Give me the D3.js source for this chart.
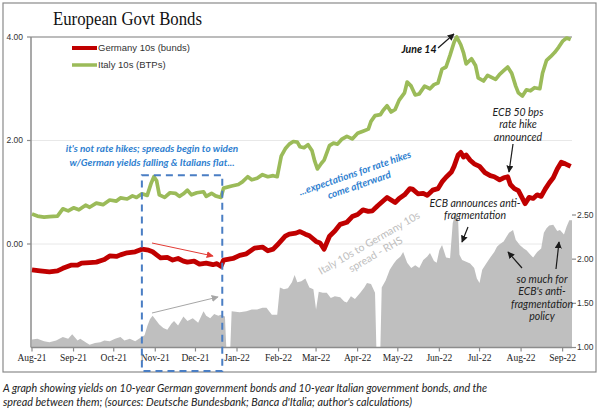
<!DOCTYPE html>
<html><head><meta charset="utf-8">
<script src="https://cdn.jsdelivr.net/npm/d3@7"></script>
<style>body{margin:0;background:#fff;} svg{display:block}</style>
</head><body><svg id="c" width="600" height="409"></svg>
<script>
// ---------- DATA ----------
const germany = [
["2021-08-01",-0.50],["2021-08-07",-0.52],["2021-08-14",-0.54],["2021-08-20",-0.52],["2021-08-24",-0.47],["2021-08-30",-0.41],
["2021-09-04",-0.41],["2021-09-07",-0.37],["2021-09-13",-0.36],["2021-09-18",-0.35],["2021-09-24",-0.30],["2021-09-28",-0.23],
["2021-10-03",-0.24],["2021-10-06",-0.21],["2021-10-11",-0.17],["2021-10-17",-0.15],["2021-10-22",-0.10],["2021-10-27",-0.12],["2021-10-30",-0.15],
["2021-11-02",-0.21],["2021-11-05",-0.27],["2021-11-10",-0.26],["2021-11-14",-0.31],["2021-11-18",-0.28],["2021-11-22",-0.33],["2021-11-25",-0.35],["2021-11-30",-0.33],
["2021-12-04",-0.39],["2021-12-09",-0.37],["2021-12-14",-0.40],["2021-12-17",-0.38],["2021-12-20",-0.43],["2021-12-22",-0.31],["2021-12-29",-0.28],
["2022-01-03",-0.22],["2022-01-08",-0.19],["2022-01-14",-0.08],["2022-01-20",-0.06],["2022-01-24",-0.13],["2022-01-28",-0.10],["2022-01-31",-0.02],
["2022-02-06",0.15],["2022-02-09",0.19],["2022-02-14",0.21],["2022-02-17",0.24],["2022-02-21",0.19],["2022-02-24",0.16],
["2022-03-01",0.05],["2022-03-04",0.02],["2022-03-07",-0.10],["2022-03-11",0.15],["2022-03-15",0.25],["2022-03-19",0.38],["2022-03-24",0.42],["2022-03-28",0.53],
["2022-04-01",0.57],["2022-04-05",0.66],["2022-04-09",0.63],["2022-04-12",0.64],["2022-04-16",0.74],["2022-04-20",0.83],["2022-04-23",0.90],["2022-04-26",0.85],["2022-04-29",0.80],
["2022-05-02",0.88],["2022-05-06",0.95],["2022-05-10",1.07],["2022-05-12",1.06],["2022-05-16",0.97],["2022-05-20",0.98],["2022-05-23",0.94],["2022-05-27",1.04],["2022-05-31",1.07],
["2022-06-03",1.20],["2022-06-06",1.29],["2022-06-10",1.39],["2022-06-12",1.50],["2022-06-15",1.72],["2022-06-17",1.77],["2022-06-19",1.68],["2022-06-21",1.72],["2022-06-24",1.62],["2022-06-27",1.55],
["2022-07-01",1.50],["2022-07-05",1.38],["2022-07-09",1.32],["2022-07-12",1.30],["2022-07-16",1.24],["2022-07-19",1.28],["2022-07-22",1.30],["2022-07-24",1.15],["2022-07-27",1.07],["2022-07-30",1.03],
["2022-08-02",0.88],["2022-08-04",0.78],["2022-08-07",0.90],["2022-08-10",0.88],["2022-08-13",0.95],["2022-08-16",0.92],["2022-08-19",1.06],["2022-08-22",1.18],["2022-08-25",1.28],["2022-08-28",1.45],["2022-08-31",1.58],
["2022-09-03",1.55],["2022-09-07",1.50]
];
const italy = [
["2021-08-01",0.58],["2021-08-05",0.54],["2021-08-10",0.52],["2021-08-14",0.53],["2021-08-20",0.54],["2021-08-24",0.68],["2021-08-28",0.64],
["2021-09-01",0.70],["2021-09-05",0.66],["2021-09-10",0.75],["2021-09-13",0.71],["2021-09-18",0.79],["2021-09-23",0.76],["2021-09-28",0.85],
["2021-10-03",0.83],["2021-10-06",0.89],["2021-10-11",0.87],["2021-10-15",0.93],["2021-10-18",0.90],["2021-10-22",0.97],["2021-10-26",0.94],["2021-10-29",1.18],["2021-10-31",1.30],
["2021-11-02",1.22],["2021-11-04",0.95],["2021-11-08",0.90],["2021-11-12",0.99],["2021-11-16",0.98],["2021-11-19",0.92],["2021-11-22",0.97],["2021-11-25",1.04],["2021-11-28",0.95],
["2021-12-02",0.99],["2021-12-07",1.01],["2021-12-09",0.92],["2021-12-13",0.98],["2021-12-16",0.93],["2021-12-20",0.90],["2021-12-22",1.08],["2021-12-28",1.12],
["2022-01-02",1.15],["2022-01-05",1.20],["2022-01-09",1.30],["2022-01-12",1.24],["2022-01-16",1.27],["2022-01-20",1.34],["2022-01-24",1.30],["2022-01-28",1.32],["2022-01-31",1.30],
["2022-02-03",1.70],["2022-02-06",1.84],["2022-02-09",1.93],["2022-02-12",1.98],["2022-02-15",1.97],["2022-02-17",1.88],["2022-02-20",1.86],["2022-02-23",1.92],["2022-02-26",1.80],["2022-02-28",1.60],
["2022-03-02",1.45],["2022-03-05",1.56],["2022-03-07",1.62],["2022-03-11",1.90],["2022-03-14",1.95],["2022-03-17",1.93],["2022-03-20",2.02],["2022-03-24",2.08],["2022-03-28",2.03],
["2022-04-01",2.14],["2022-04-05",2.18],["2022-04-09",2.22],["2022-04-11",2.37],["2022-04-14",2.48],["2022-04-18",2.50],["2022-04-20",2.58],["2022-04-23",2.67],["2022-04-26",2.55],["2022-04-29",2.60],
["2022-05-02",2.78],["2022-05-06",2.92],["2022-05-08",3.13],["2022-05-11",3.05],["2022-05-14",2.88],["2022-05-17",2.90],["2022-05-21",3.05],["2022-05-25",3.00],["2022-05-28",3.08],["2022-05-31",3.11],
["2022-06-03",3.38],["2022-06-06",3.42],["2022-06-09",3.65],["2022-06-12",3.90],["2022-06-14",4.00],["2022-06-17",3.85],["2022-06-19",3.70],["2022-06-21",3.48],["2022-06-25",3.58],["2022-06-28",3.45],["2022-06-30",3.21],
["2022-07-04",3.15],["2022-07-07",3.26],["2022-07-10",3.22],["2022-07-13",3.18],["2022-07-16",3.28],["2022-07-19",3.35],["2022-07-22",3.42],["2022-07-25",3.30],["2022-07-28",3.05],["2022-07-30",2.92],
["2022-08-02",2.86],["2022-08-05",2.98],["2022-08-08",2.96],["2022-08-11",3.02],["2022-08-15",3.00],["2022-08-17",3.30],["2022-08-20",3.55],["2022-08-23",3.62],["2022-08-26",3.70],["2022-08-29",3.80],
["2022-09-01",3.92],["2022-09-04",3.98],["2022-09-07",3.95]
];
// Italy 10s to Germany 10s spread (RHS); null = missing day
const spread = [
["2021-08-01",1.09],["2021-08-05",1.10],["2021-08-10",1.07],["2021-08-14",1.06],["2021-08-19",1.08],["2021-08-24",1.12],["2021-08-28",1.10],["2021-08-31",1.15],
["2021-09-04",1.08],["2021-09-06",1.10],["2021-09-10",1.06],["2021-09-13",1.03],["2021-09-17",1.05],["2021-09-21",1.06],["2021-09-24",1.08],["2021-09-28",1.07],
["2021-10-02",1.10],["2021-10-06",1.12],["2021-10-09",1.08],["2021-10-13",1.10],["2021-10-17",1.07],["2021-10-21",1.11],["2021-10-24",1.14],["2021-10-26",1.24],["2021-10-28",1.32],["2021-10-30",1.36],
["2021-11-02",1.30],["2021-11-04",1.26],["2021-11-07",1.22],["2021-11-10",1.20],["2021-11-13",1.27],["2021-11-15",1.30],["2021-11-18",1.25],["2021-11-22",1.35],["2021-11-25",1.30],["2021-11-29",1.33],
["2021-12-03",1.28],["2021-12-07",1.41],["2021-12-09",1.36],["2021-12-12",1.33],["2021-12-15",1.38],["2021-12-18",1.36],["2021-12-20",1.37],["2021-12-23",1.35],["2021-12-24",null],["2021-12-27",null],["2021-12-28",1.41],
["2022-01-03",1.40],["2022-01-08",1.41],["2022-01-12",1.43],["2022-01-16",1.43],["2022-01-20",1.45],["2022-01-23",1.45],["2022-01-27",1.37],["2022-01-31",1.37],
["2022-02-02",1.68],["2022-02-05",1.66],["2022-02-08",1.67],["2022-02-11",1.74],["2022-02-13",1.82],["2022-02-15",1.74],["2022-02-18",1.75],["2022-02-21",1.78],["2022-02-24",1.68],["2022-02-27",1.66],
["2022-03-01",1.43],["2022-03-03",1.63],["2022-03-06",1.62],["2022-03-09",1.62],["2022-03-12",1.56],["2022-03-15",1.58],["2022-03-19",1.57],["2022-03-22",1.52],["2022-03-24",1.51],["2022-03-27",1.58],["2022-03-30",1.55],
["2022-04-03",1.62],["2022-04-06",1.68],["2022-04-08",1.73],["2022-04-11",1.72],["2022-04-14",1.62],["2022-04-15",null],["2022-04-18",null],["2022-04-19",1.68],["2022-04-22",1.76],["2022-04-25",1.88],["2022-04-28",1.95],["2022-04-30",1.99],
["2022-05-03",2.03],["2022-05-05",2.08],["2022-05-08",1.96],["2022-05-11",1.90],["2022-05-14",1.93],["2022-05-17",1.90],["2022-05-20",1.99],["2022-05-23",2.03],["2022-05-25",2.07],["2022-05-28",1.98],["2022-05-30",1.96],
["2022-06-01",2.10],["2022-06-03",2.16],["2022-06-06",2.02],["2022-06-09",2.01],["2022-06-11",2.41],["2022-06-13",2.52],["2022-06-15",2.45],["2022-06-16",2.05],["2022-06-18",1.99],["2022-06-21",1.97],["2022-06-24",1.95],["2022-06-27",1.90],["2022-06-29",1.78],
["2022-07-01",1.73],["2022-07-03",1.88],["2022-07-06",1.95],["2022-07-09",2.02],["2022-07-12",2.08],["2022-07-14",2.14],["2022-07-16",2.17],["2022-07-19",2.20],["2022-07-21",2.25],["2022-07-23",2.30],["2022-07-26",2.33],["2022-07-28",2.22],["2022-07-31",2.16],
["2022-08-03",2.12],["2022-08-05",2.10],["2022-08-08",2.05],["2022-08-10",2.02],["2022-08-13",2.08],["2022-08-16",2.12],["2022-08-18",2.30],["2022-08-20",2.35],["2022-08-22",2.38],["2022-08-25",2.39],["2022-08-28",2.32],["2022-08-30",2.33],
["2022-09-02",2.28],["2022-09-04",2.37],["2022-09-06",2.44],["2022-09-08",2.44]
];
const leftTicks = [0, 2, 4];
const rightTicks = [1.0, 1.5, 2.0, 2.5];
const xDomain = ["2021-08-01", "2022-09-08"];
const legendLabels = ["Germany 10s (bunds)", "Italy 10s (BTPs)"];
const title = "European Govt Bonds";
const caption = ["A graph showing yields on 10-year German government bonds and 10-year Italian government bonds, and the",
                 "spread between them; (sources: Deutsche Bundesbank; Banca d'Italia; author's calculations)"];

// ---------- CHART ----------
const parse = d3.utcParse("%Y-%m-%d");
const svg = d3.select("#c");
const L = 31, R = 572, T = 37, B = 347.5;

const x = d3.scaleUtc().domain(xDomain.map(parse)).range([32, R]);
const yL = d3.scaleLinear().domain([-2, 4]).range([B, T]);
const yR = d3.scaleLinear().domain([1, 2.5]).range([B, 215]);

const ger = germany.map(d => ({d: parse(d[0]), v: d[1]}));
const ita = italy.map(d => ({d: parse(d[0]), v: d[1]}));
const spr = spread.map(d => ({d: parse(d[0]), v: d[1]}));

svg.append("rect").attr("width", 600).attr("height", 409).attr("fill", "#fff");
svg.append("rect").attr("x", 3).attr("y", 3).attr("width", 593).attr("height", 369)
  .attr("fill", "none").attr("stroke", "#8a8a8a").attr("stroke-width", 1.2);

svg.append("text").attr("x", 53).attr("y", 25).text(title)
  .attr("font-family", "Liberation Serif").attr("font-size", 18).attr("fill", "#111")
  .attr("textLength", 149).attr("lengthAdjust", "spacingAndGlyphs");

svg.append("g").selectAll("line").data(leftTicks).join("line")
  .attr("x1", L).attr("x2", R).attr("y1", d => yL(d)).attr("y2", d => yL(d))
  .attr("stroke", d => d === 4 ? "#a6a6a6" : "#e8e8e8").attr("stroke-width", d => d === 4 ? 1.3 : 1);

const area = d3.area()
  .x(d => x(d.d))
  .y0(yR(1))
  .y1(d => d.v == null ? yR(1) : yR(d.v));
svg.append("path").datum(spr).attr("d", area).attr("fill", "#bfbfbf");

svg.append("line").attr("x1", L).attr("x2", L).attr("y1", T).attr("y2", B)
  .attr("stroke", "#8c8c8c").attr("stroke-width", 1.5);
svg.append("line").attr("x1", L).attr("x2", R).attr("y1", B).attr("y2", B)
  .attr("stroke", "#8c8c8c").attr("stroke-width", 1.5);

const gL = svg.append("g");
gL.selectAll("line").data(leftTicks).join("line")
  .attr("x1", L - 4).attr("x2", L).attr("y1", d => yL(d)).attr("y2", d => yL(d))
  .attr("stroke", "#8c8c8c").attr("stroke-width", 1.2);
gL.selectAll("text").data(leftTicks).join("text")
  .attr("x", 23).attr("y", d => yL(d)).attr("dy", "0.35em").attr("text-anchor", "end")
  .attr("font-family", "Liberation Sans").attr("font-size", 8.5).attr("fill", "#333")
  .text(d => d3.format(".2f")(d));

const gR = svg.append("g");
gR.selectAll("line").data(rightTicks).join("line")
  .attr("x1", R).attr("x2", R + 4).attr("y1", d => yR(d)).attr("y2", d => yR(d))
  .attr("stroke", "#8c8c8c").attr("stroke-width", 1.2);
gR.selectAll("text").data(rightTicks).join("text")
  .attr("x", R + 5).attr("y", d => yR(d)).attr("dy", "0.35em")
  .attr("font-family", "Liberation Sans").attr("font-size", 8.5).attr("fill", "#333")
  .text(d => d3.format(".2f")(d));

const months = d3.utcMonth.range(parse("2021-08-01"), parse("2022-09-08"));
const gX = svg.append("g");
gX.selectAll("line").data(months).join("line")
  .attr("x1", d => x(d)).attr("x2", d => x(d)).attr("y1", B).attr("y2", B + 4)
  .attr("stroke", "#8c8c8c").attr("stroke-width", 1.2);
gX.selectAll("text").data(months).join("text")
  .attr("x", d => x(d)).attr("y", 361).attr("text-anchor", "middle")
  .attr("font-family", "Liberation Serif").attr("font-size", 9.5).attr("fill", "#222")
  .text(d3.utcFormat("%b-%y"));

const line = d3.line().x(d => x(d.d)).y(d => yL(d.v));
svg.append("path").datum(ita).attr("d", line).attr("fill", "none")
  .attr("stroke", "#9bbb59").attr("stroke-width", 3.7).attr("stroke-linejoin", "round");
svg.append("path").datum(ger).attr("d", line).attr("fill", "none")
  .attr("stroke", "#c00000").attr("stroke-width", 4.8).attr("stroke-linejoin", "round");

const colors = ["#c00000", "#9bbb59"];
legendLabels.forEach((lab, i) => {
  const yy = 48 + i * 17;
  svg.append("line").attr("x1", 72).attr("x2", 97).attr("y1", yy).attr("y2", yy)
    .attr("stroke", colors[i]).attr("stroke-width", i === 0 ? 4 : 3.5);
  svg.append("text").attr("x", 98).attr("y", yy).attr("dy", "0.35em").text(lab)
    .attr("font-family", "Liberation Sans").attr("font-size", 9.5).attr("fill", "#333");
});

svg.append("rect").attr("x", x(parse("2021-10-22"))).attr("y", yL(1.33))
  .attr("width", x(parse("2021-12-21")) - x(parse("2021-10-22"))).attr("height", 371 - yL(1.33))
  .attr("fill", "none").attr("stroke", "#4a7ec4").attr("stroke-width", 2).attr("stroke-dasharray", "7,5");

const defs = svg.append("defs");
function marker(id, color) {
  defs.append("marker").attr("id", id).attr("viewBox", "0 0 10 10").attr("refX", 9).attr("refY", 5)
    .attr("markerWidth", 7).attr("markerHeight", 7).attr("markerUnits", "userSpaceOnUse").attr("orient", "auto")
    .append("path").attr("d", "M0,0 L10,5 L0,10 z").attr("fill", color);
}
marker("mk", "#1a1a1a"); marker("mr", "#e23b35"); marker("mg", "#a6a6a6");
function arrow(x1, y1, x2, y2, color, m, w) {
  svg.append("line").attr("x1", x1).attr("y1", y1).attr("x2", x2).attr("y2", y2)
    .attr("stroke", color).attr("stroke-width", w || 1.1).attr("marker-end", `url(#${m})`);
}
arrow(152, 243, 213, 256, "#e23b35", "mr", 1);
arrow(152, 313, 218, 297, "#a6a6a6", "mg", 1);
arrow(438, 48, 454, 34, "#1a1a1a", "mk", 1.2);
arrow(513, 144, 509, 172, "#1a1a1a", "mk", 1.2);
arrow(468, 227, 462, 242, "#1a1a1a", "mk", 1.2);
arrow(522, 268, 508, 252, "#1a1a1a", "mk", 1.2);
arrow(556, 269, 559, 242, "#1a1a1a", "mk", 1.2);

function txt(lines, cx, cy, step, opts) {
  lines.forEach((t, i) => {
    const e = svg.append("text").attr("x", cx).attr("y", cy + i * step).attr("dy", "0.35em")
      .attr("text-anchor", opts.anchor || "middle").text(t)
      .attr("font-family", opts.font || "Lato").attr("font-size", opts.size || 9.5)
      .attr("font-style", opts.style || "italic").attr("font-weight", opts.weight || 400)
      .attr("fill", opts.fill || "#222");
    if (opts.rot) e.attr("transform", `rotate(${opts.rot},${cx},${cy})`);
  });
}
txt(["June 14"], 419, 49, 0, {weight: 700, size: 10.5, fill: "#111"});
txt(["ECB 50 bps", "rate hike", "announced"], 518, 112, 12.5, {size: 10.5});
txt(["ECB announces anti-", "fragmentation"], 475, 203, 12.5, {size: 10.5});
txt(["so much for", "ECB's anti-", "fragmentation", "policy"], 542, 279, 12.5, {size: 10.5});
txt(["it's not rate hikes; spreads begin to widen", "w/German yields falling & Italians flat..."], 152, 148, 14, {size: 10, weight: 700, fill: "#2f7fd0"});
txt(["...expectations for rate hikes", "come afterward"], 355, 173, 12.5, {size: 10, weight: 700, fill: "#2f7fd0", rot: -19});
txt(["Italy 10s to Germany 10s", "spread - RHS"], 369, 243, 13, {size: 10.5, style: "normal", fill: "#bdbdbd", rot: -30});

caption.forEach((t, i) => {
  svg.append("text").attr("x", 3).attr("y", 392 + i * 14).text(t)
    .attr("font-family", "Lato").attr("font-style", "italic").attr("font-size", 11.5).attr("fill", "#222")
    .attr("textLength", i === 0 ? 484 : 409).attr("lengthAdjust", "spacingAndGlyphs");
});
</script></body></html>
